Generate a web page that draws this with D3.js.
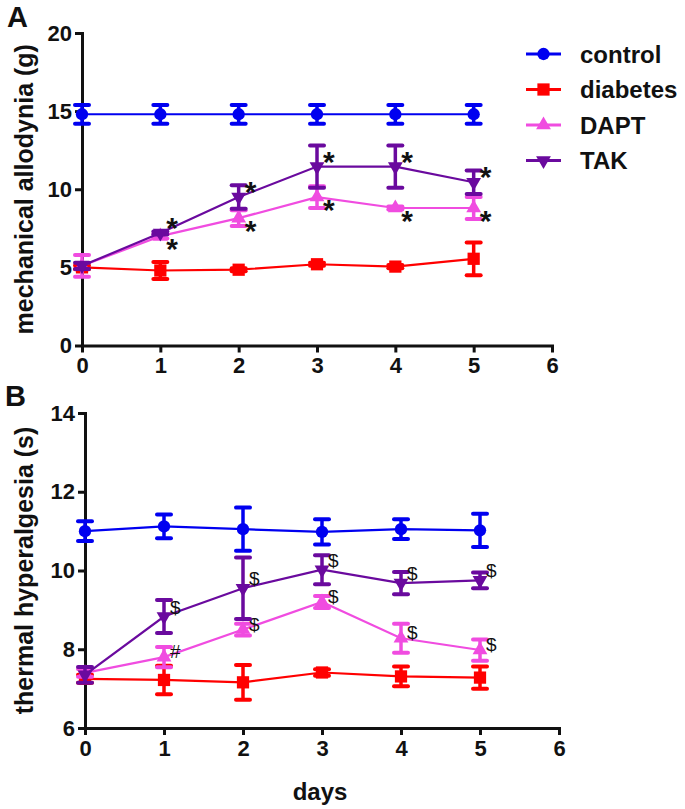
<!DOCTYPE html>
<html>
<head>
<meta charset="utf-8">
<script src="https://cdn.jsdelivr.net/npm/d3@7"></script>
<style>
  body { margin: 0; background: #fff; }
  svg { font-family: "Liberation Sans", Arial, sans-serif; }
</style>
</head>
<body>
<svg width="685" height="809"></svg>
<script>
const days = [0, 1, 2, 3, 4, 5];
const xTicks = [0, 1, 2, 3, 4, 5, 6];
const seriesNames = ["control", "diabetes", "DAPT", "TAK"];
const seriesColors = ["#0000f0", "#ff0000", "#f04ce0", "#6a0a9e"];

// panel A - mechanical allodynia (g)
const mechControl = [14.8, 14.8, 14.8, 14.8, 14.8, 14.8];
const mechControlSem = [0.6, 0.6, 0.6, 0.6, 0.6, 0.6];
const mechDiabetes = [5.0, 4.8, 4.85, 5.2, 5.05, 5.55];
const mechDiabetesSem = [0.12, 0.55, 0.1, 0.1, 0.1, 1.05];
const mechDAPT = [5.1, 7.0, 8.15, 9.5, 8.8, 8.8];
const mechDAPTSem = [0.7, 0.15, 0.5, 0.7, 0.1, 0.7];
const mechTAK = [5.1, 7.2, 9.5, 11.45, 11.45, 10.45];
const mechTAKSem = [0.2, 0.1, 0.75, 1.35, 1.35, 0.75];
const mechDAPTMarks = ["", "*", "*", "*", "*", "*"];
const mechTAKMarks = ["", "*", "*", "*", "*", "*"];
const mechTicks = [0, 5, 10, 15, 20];

// panel B - thermal hyperalgesia (s)
const thermControl = [11.0, 11.12, 11.05, 10.98, 11.05, 11.02];
const thermControlSem = [0.25, 0.3, 0.55, 0.32, 0.25, 0.42];
const thermDiabetes = [7.25, 7.22, 7.16, 7.41, 7.31, 7.28];
const thermDiabetesSem = [0.1, 0.36, 0.44, 0.08, 0.25, 0.28];
const thermDAPT = [7.4, 7.8, 8.5, 9.2, 8.28, 7.98];
const thermDAPTSem = [0.1, 0.26, 0.15, 0.15, 0.37, 0.27];
const thermTAK = [7.35, 8.83, 9.55, 10.02, 9.68, 9.75];
const thermTAKSem = [0.2, 0.42, 0.78, 0.37, 0.28, 0.2];
const thermDAPTMarks = ["", "#", "$", "$", "$", "$"];
const thermTAKMarks = ["", "$", "$", "$", "$", "$"];
const thermTicks = [6, 8, 10, 12, 14];

const svg = d3.select("svg");

const symbols = [
  d3.symbol().type(d3.symbolCircle).size(120),
  d3.symbol().type(d3.symbolSquare).size(150),
  d3.symbol().type(d3.symbolTriangle).size(95),
  d3.symbol().type(d3.symbolTriangle).size(95)
];
const symbolRotate = [0, 0, 0, 180];

function drawPanel(opt) {
  const x = d3.scaleLinear().domain([0, 6]).range(opt.xRange);
  const y = d3.scaleLinear().domain(opt.yDomain).range(opt.yRange);
  const g = svg.append("g");

  // axes
  const xAxis = g.append("g")
    .attr("transform", `translate(0,${opt.yRange[0]})`)
    .call(d3.axisBottom(x).tickValues(xTicks).tickFormat(d3.format("d"))
      .tickSize(7).tickSizeOuter(0).tickPadding(5));
  const yAxis = g.append("g")
    .attr("transform", `translate(${opt.xRange[0]},0)`)
    .call(d3.axisLeft(y).tickValues(opt.yTicks).tickFormat(d3.format("d"))
      .tickSize(7).tickSizeOuter(0).tickPadding(3));
  [xAxis, yAxis].forEach(a => {
    a.select(".domain").attr("stroke", "#111").attr("stroke-width", 3).attr("stroke-linecap", "square");
    a.selectAll(".tick line").attr("stroke", "#111").attr("stroke-width", 3);
    a.selectAll(".tick text").attr("fill", "#111")
      .style("font-size", "22px").style("font-weight", "bold")
      .style("font-family", "'Liberation Sans', Arial, sans-serif");
  });

  g.append("text")
    .attr("transform", `translate(${opt.labelX},${(opt.yRange[0] + opt.yRange[1]) / 2}) rotate(-90)`)
    .attr("text-anchor", "middle")
    .attr("dominant-baseline", "central")
    .style("font-size", "25px").style("font-weight", "bold").attr("fill", "#111")
    .text(opt.yLabel);

  g.append("text")
    .attr("x", opt.letterPos[0]).attr("y", opt.letterPos[1])
    .style("font-size", "29px").style("font-weight", "bold").attr("fill", "#111")
    .text(opt.letter);

  const line = d3.line().x((d, i) => x(days[i])).y(d => y(d));

  opt.series.forEach((s, k) => {
    const col = seriesColors[k];
    const sg = g.append("g");
    sg.append("path").datum(s.mean)
      .attr("fill", "none").attr("stroke", col).attr("stroke-width", 2.2)
      .attr("d", line);

    const eb = sg.selectAll(".eb").data(s.mean).enter().append("g");
    eb.append("line")
      .attr("x1", (d, i) => x(days[i])).attr("x2", (d, i) => x(days[i]))
      .attr("y1", (d, i) => y(d - s.sem[i])).attr("y2", (d, i) => y(d + s.sem[i]))
      .attr("stroke", col).attr("stroke-width", 3.5);
    [-1, 1].forEach(sign => {
      eb.append("line")
        .attr("x1", (d, i) => x(days[i]) - 7).attr("x2", (d, i) => x(days[i]) + 7)
        .attr("y1", (d, i) => y(d + sign * s.sem[i])).attr("y2", (d, i) => y(d + sign * s.sem[i]))
        .attr("stroke", col).attr("stroke-width", 4).attr("stroke-linecap", "round");
    });

    sg.selectAll(".pt").data(s.mean).enter().append("path")
      .attr("d", symbols[k])
      .attr("transform", (d, i) => `translate(${x(days[i])},${y(d)}) rotate(${symbolRotate[k]})`)
      .attr("fill", col);

    if (s.marks) {
      sg.selectAll(".mk").data(s.marks).enter().append("text")
        .attr("x", (d, i) => x(days[i]) + 6)
        .attr("y", (d, i) => y(s.mean[i]) + s.markDy)
        .style("font-size", opt.markSize).style("font-weight", opt.markWeight)
        .attr("fill", "#111")
        .text(d => d);
    }
  });
  return { x, y };
}

drawPanel({
  xRange: [82, 552], yDomain: [0, 20], yRange: [345.5, 33], yTicks: mechTicks,
  yLabel: "mechanical allodynia (g)", labelX: 24, letter: "A", letterPos: [7, 27],
  markSize: "30px", markWeight: "bold",
  series: [
    { mean: mechControl, sem: mechControlSem },
    { mean: mechDiabetes, sem: mechDiabetesSem },
    { mean: mechDAPT, sem: mechDAPTSem, marks: mechDAPTMarks, markDy: 23 },
    { mean: mechTAK, sem: mechTAKSem, marks: mechTAKMarks, markDy: 5 }
  ]
});

drawPanel({
  xRange: [85, 559], yDomain: [6, 14], yRange: [728, 413], yTicks: thermTicks,
  yLabel: "thermal hyperalgesia (s)", labelX: 24, letter: "B", letterPos: [5, 406],
  markSize: "19px", markWeight: "normal",
  series: [
    { mean: thermControl, sem: thermControlSem },
    { mean: thermDiabetes, sem: thermDiabetesSem },
    { mean: thermDAPT, sem: thermDAPTSem, marks: thermDAPTMarks, markDy: 1 },
    { mean: thermTAK, sem: thermTAKSem, marks: thermTAKMarks, markDy: -3 }
  ]
});

svg.append("text")
  .attr("x", 320).attr("y", 800)
  .attr("text-anchor", "middle")
  .style("font-size", "24px").style("font-weight", "bold").attr("fill", "#111")
  .text("days");

// legend
const legend = svg.append("g");
seriesNames.forEach((name, k) => {
  const ly = 54 + k * 35.5;
  legend.append("line")
    .attr("x1", 526).attr("x2", 561).attr("y1", ly).attr("y2", ly)
    .attr("stroke", seriesColors[k]).attr("stroke-width", 3);
  legend.append("path")
    .attr("d", symbols[k])
    .attr("transform", `translate(543.5,${ly}) rotate(${symbolRotate[k]})`)
    .attr("fill", seriesColors[k]);
  legend.append("text")
    .attr("x", 580).attr("y", ly)
    .attr("dominant-baseline", "central")
    .style("font-size", "24px").style("font-weight", "bold").attr("fill", "#111")
    .text(name);
});
</script>
</body>
</html>
